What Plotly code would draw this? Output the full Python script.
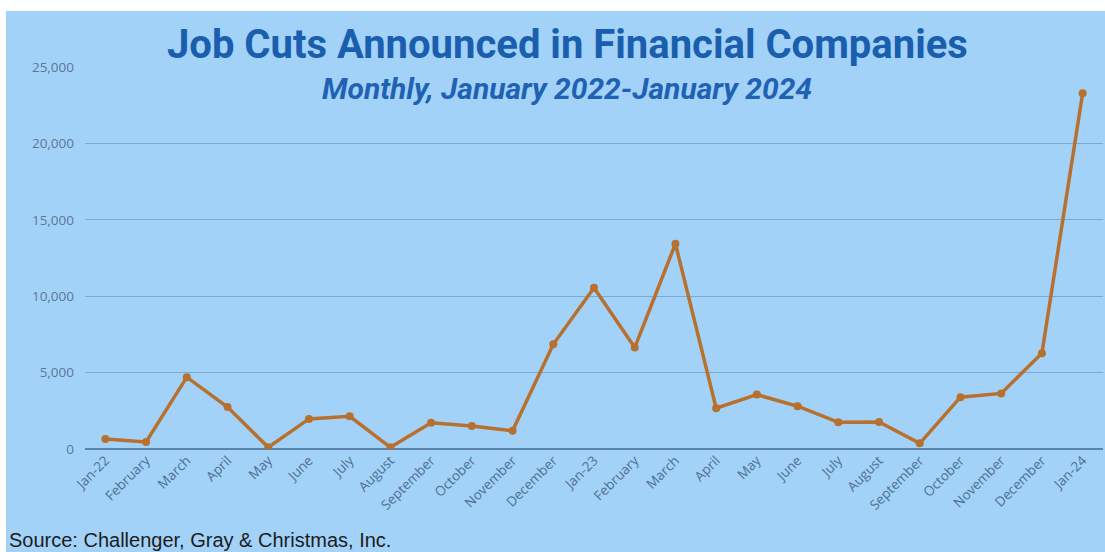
import plotly.graph_objects as go

months = ["Jan-22", "February", "March", "April", "May", "June", "July", "August",
          "September", "October", "November", "December",
          "Jan-23", "February", "March", "April", "May", "June", "July", "August",
          "September", "October", "November", "December", "Jan-24"]
job_cuts = [650, 455, 4700, 2750, 110, 1970, 2140, 110, 1710, 1510, 1190, 6850,
            10550, 6640, 13430, 2670, 3560, 2800, 1750, 1770, 370, 3390, 3640, 6270, 23280]
y_ticks = [0, 5000, 10000, 15000, 20000, 25000]

W, H = 1105, 552
L, R, T, B = 85, 2, 67, 103
pw, ph = W - L - R, H - T - B

def px_x(p):
    return (p - L) / pw

def px_y(p):
    return (H - B - p) / ph

x_idx = list(range(len(months)))

fig = go.Figure()
fig.add_trace(go.Scatter(
    x=x_idx, y=job_cuts, mode="lines+markers",
    line=dict(color="#b8702f", width=3.5),
    marker=dict(color="#b8702f", size=8),
    hoverinfo="y",
))

fig.add_shape(type="rect", xref="paper", yref="paper",
              x0=px_x(6), x1=px_x(W + 5), y0=px_y(H + 5), y1=px_y(11),
              fillcolor="#a3d2f9", line=dict(width=0), layer="below")

fig.add_annotation(text="<b>Job Cuts Announced in Financial Companies</b>",
                   xref="paper", yref="paper", x=px_x(567), y=px_y(44),
                   showarrow=False, xanchor="center", yanchor="middle",
                   font=dict(family="Roboto, sans-serif", size=40, color="#1a5eae"))
fig.add_annotation(text="<b><i>Monthly, January 2022-January 2024</i></b>",
                   xref="paper", yref="paper", x=px_x(567), y=px_y(88),
                   showarrow=False, xanchor="center", yanchor="middle",
                   font=dict(family="Roboto, sans-serif", size=30, color="#1f62b4"))
fig.add_annotation(text="Source: Challenger, Gray & Christmas, Inc.",
                   xref="paper", yref="paper", x=px_x(7), y=px_y(540),
                   showarrow=False, xanchor="left", yanchor="middle",
                   font=dict(family="Liberation Sans, Arial, sans-serif", size=20, color="#1c1c1c"))

fig.update_layout(
    width=W, height=H,
    margin=dict(l=L, r=R, t=T, b=B),
    paper_bgcolor="white",
    plot_bgcolor="rgba(0,0,0,0)",
    showlegend=False,
    xaxis=dict(
        tickmode="array", tickvals=x_idx, ticktext=months,
        range=[-0.5, len(months) - 0.5], tickangle=-45, showgrid=False, zeroline=False,
        showline=False, ticks="",
        tickfont=dict(family="Open Sans, sans-serif", size=13.5, color="#4f6f92"),
    ),
    yaxis=dict(
        range=[0, 25000], tickvals=y_ticks, tickformat=",",
        showgrid=True, gridcolor="#7aa9d6", gridwidth=1,
        zeroline=True, zerolinecolor="#5a82ad", zerolinewidth=1.5,
        showline=False, ticks="", ticklabelstandoff=10,
        tickfont=dict(family="Open Sans, sans-serif", size=13.5, color="#5a7896"),
    ),
)

fig.write_html("out.html", config={"displayModeBar": False},
               post_script="document.body.style.margin='0';document.body.style.overflow='hidden';")
